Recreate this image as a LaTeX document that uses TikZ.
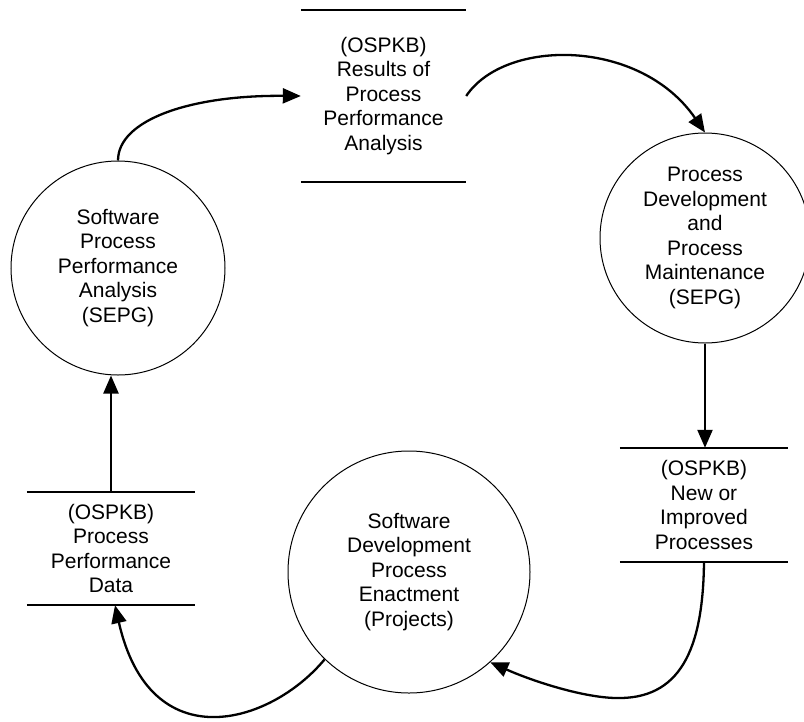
\documentclass[tikz,border=0pt]{standalone}
\usepackage{fontspec}
\setmainfont{Liberation Sans}
\usetikzlibrary{arrows.meta,calc}
\begin{document}
\begin{tikzpicture}[x=1pt,y=-1pt,
  txt/.style={align=center,font=\fontsize{21}{24.5}\selectfont},
  process/.style={txt,circle,draw,line width=1pt,inner sep=0pt},
  store/.style={txt,inner sep=0pt},
  storeline/.style={line width=1.5pt},
  flow/.style={line width=2.3pt,-{Triangle[length=18pt,width=15pt]}}]
\clip (0,0) rectangle (804,721);
\fill[white] (0,0) rectangle (804,721);

% processes
\node[process,minimum size=214pt] (c1) at (118,268)
  {Software\\Process\\Performance\\Analysis\\(SEPG)};
\node[process,minimum size=210pt] (c2) at (705,238)
  {Process\\Development\\and\\Process\\Maintenance\\(SEPG)};
\node[process,minimum size=242pt] (c3) at (409,572)
  {Software\\Development\\Process\\Enactment\\(Projects)};

% data stores
\node[store,minimum width=165pt,minimum height=172pt] (s1) at (383.5,96)
  {(OSPKB)\\Results of\\Process\\Performance\\Analysis};
\node[store,minimum width=168pt,minimum height=114pt] (s2) at (704,505)
  {(OSPKB)\\New or\\Improved\\Processes};
\node[store,minimum width=168pt,minimum height=113pt] (s3) at (111,548.5)
  {(OSPKB)\\Process\\Performance\\Data};
\foreach \s in {s1,s2,s3}
  \draw[storeline] (\s.north west) -- (\s.north east)
                   (\s.south west) -- (\s.south east);

% flows
\draw[flow] (c1.north) .. controls (118,120) and (190,95) .. (s1.west);
\draw[flow] (s1.east) .. controls (505,38) and (640,38) .. (c2.north);
\draw[flow] (c2.south) -- (c2.south |- s2.north);
\draw[flow] (s2.south) .. controls (703,650) and (680,700) .. (615,698)
  .. controls (580,697) and (530,680) .. (c3.-48);
\draw[flow] (c3.-134) .. controls (270,725) and (150,760) .. ($(s3.south)+(4,0)$);
\draw[flow] (s3.north) -- (s3.north |- c1.south);
\end{tikzpicture}
\end{document}
